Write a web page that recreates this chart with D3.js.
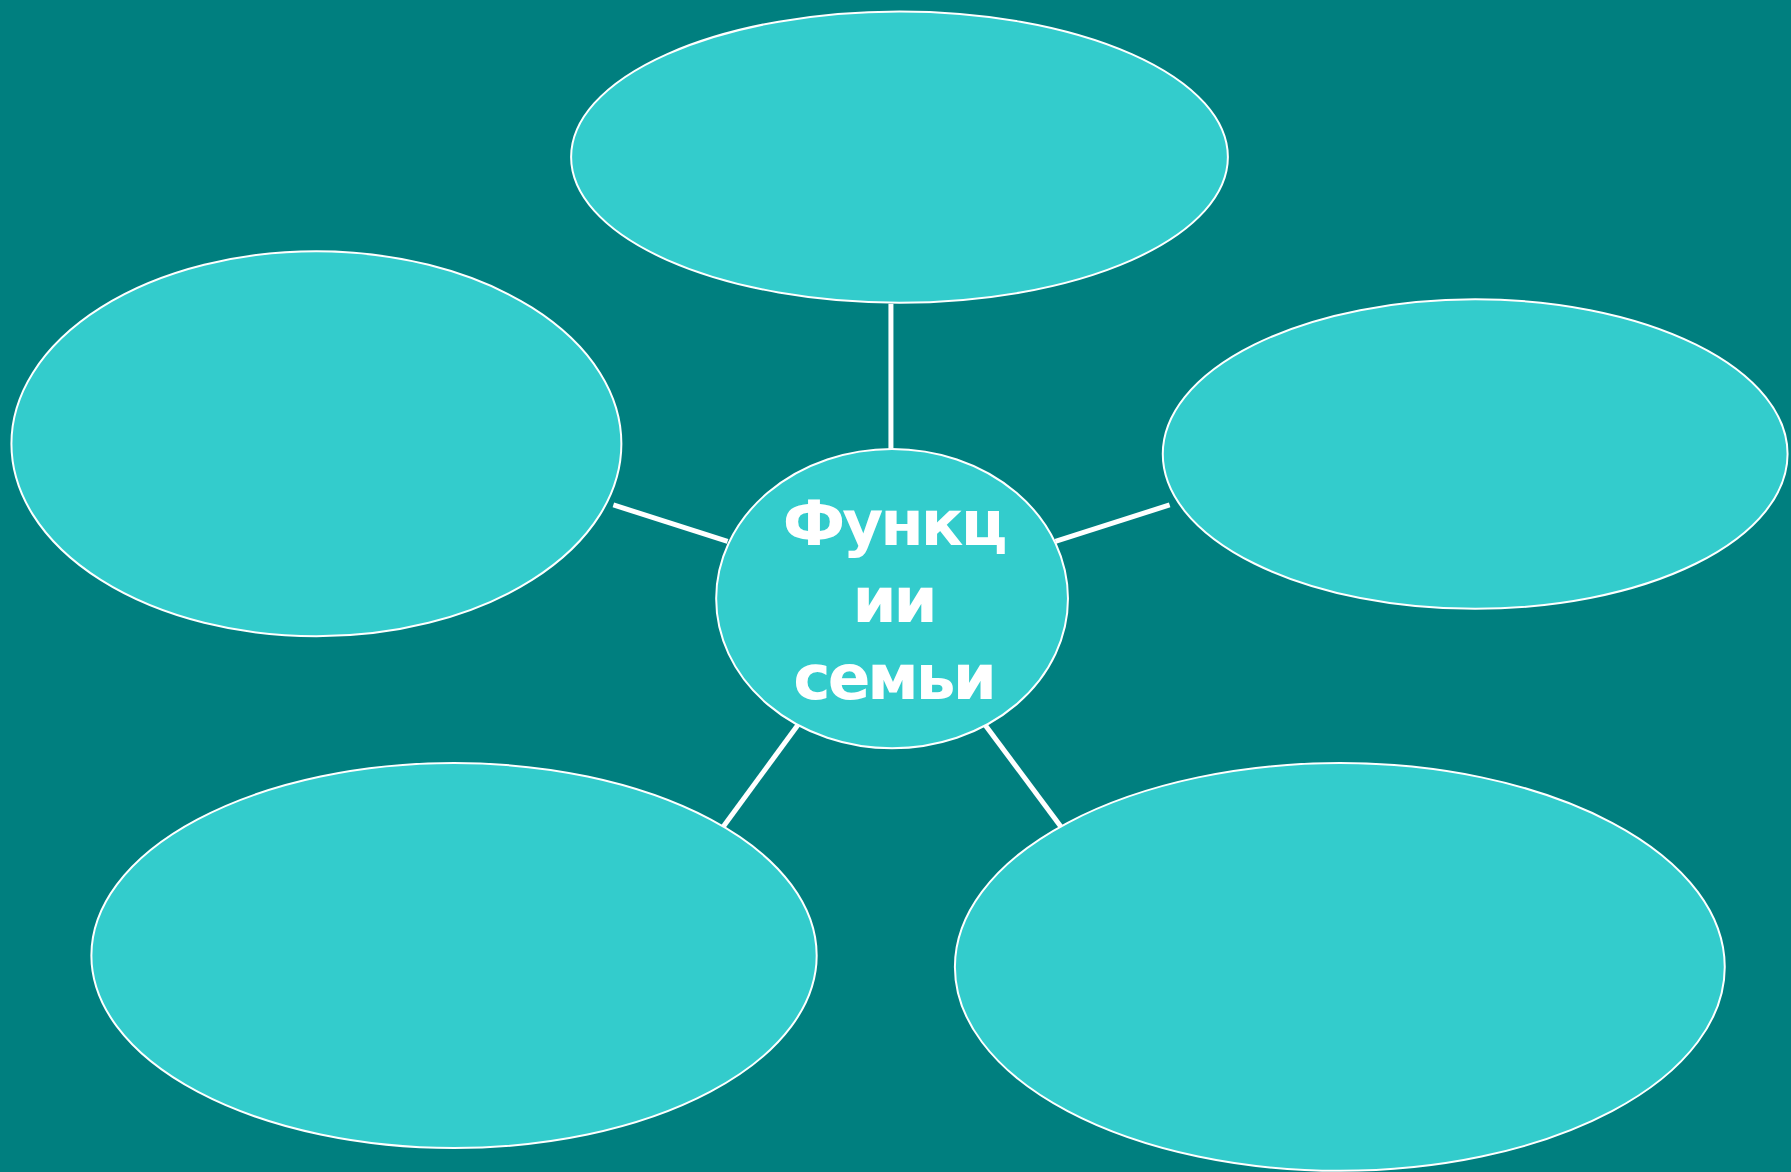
<!DOCTYPE html>
<html>
<head>
<meta charset="utf-8">
<script src="https://cdn.jsdelivr.net/npm/d3@7"></script>
<style>
  html, body { margin: 0; padding: 0; background: #007f7f; }
  svg { display: block; }
</style>
</head>
<body>
<svg></svg>
<script>
var width = 1791,
    height = 1172;

// diagram nodes, measured on a 1568 x 1026 view of the slide
var nodeNames = ["top", "left", "right", "bottomLeft", "bottomRight", "center"];
var nodeCx = [787.5, 277, 1291.5, 397.5, 1173, 781];
var nodeCy = [137.5, 388.5, 397.5, 836.5, 846.5, 524];
var nodeRx = [287.5, 267, 273.5, 317.5, 337, 154];
var nodeRy = [127.5, 168.5, 135.5, 168.5, 178.5, 131];

// connectors: [x1, y1, x2, y2]
var linkNames = ["top", "left", "right", "bottomLeft", "bottomRight"];
var linkX1 = [780, 537, 924, 633, 862];
var linkY1 = [266, 442, 474, 724, 634];
var linkX2 = [780, 637, 1024, 699, 929];
var linkY2 = [393, 474, 442, 634, 724];

var centerLines = ["Функц", "ии", "семьи"];

var x = d3.scaleLinear().domain([0, 1568]).range([0, width]);
var y = d3.scaleLinear().domain([0, 1026]).range([0, height]);

var svg = d3.select("svg")
    .attr("width", width)
    .attr("height", height);

svg.append("rect")
    .attr("width", width)
    .attr("height", height)
    .attr("fill", "#007f7f");

var nodes = nodeNames.map((n, i) => ({
    name: n, cx: nodeCx[i], cy: nodeCy[i], rx: nodeRx[i], ry: nodeRy[i]
}));
var links = linkNames.map((n, i) => ({
    name: n, x1: linkX1[i], y1: linkY1[i], x2: linkX2[i], y2: linkY2[i]
}));

svg.append("g")
    .selectAll("line")
    .data(links)
    .enter().append("line")
    .attr("x1", d => x(d.x1))
    .attr("y1", d => y(d.y1))
    .attr("x2", d => x(d.x2))
    .attr("y2", d => y(d.y2))
    .attr("stroke", "#fff")
    .attr("stroke-width", 5);

svg.append("g")
    .selectAll("ellipse")
    .data(nodes)
    .enter().append("ellipse")
    .attr("cx", d => x(d.cx))
    .attr("cy", d => y(d.cy))
    .attr("rx", d => x(d.rx))
    .attr("ry", d => y(d.ry))
    .attr("fill", "#33cccc")
    .attr("stroke", "#fff")
    .attr("stroke-width", 2);

var c = nodes[nodes.length - 1];
svg.append("text")
    .attr("x", x(c.cx))
    .attr("y", y(c.cy))
    .attr("text-anchor", "middle")
    .attr("fill", "#fff")
    .attr("font-family", "'DejaVu Sans', Verdana, sans-serif")
    .attr("font-weight", "bold")
    .attr("font-size", 63)
    .attr("letter-spacing", -3)
    .selectAll("tspan")
    .data(centerLines)
    .enter().append("tspan")
    .attr("x", x(c.cx) + 1.5)
    .attr("y", (d, i) => 545 + i * 77)
    .text(d => d);
</script>
</body>
</html>
